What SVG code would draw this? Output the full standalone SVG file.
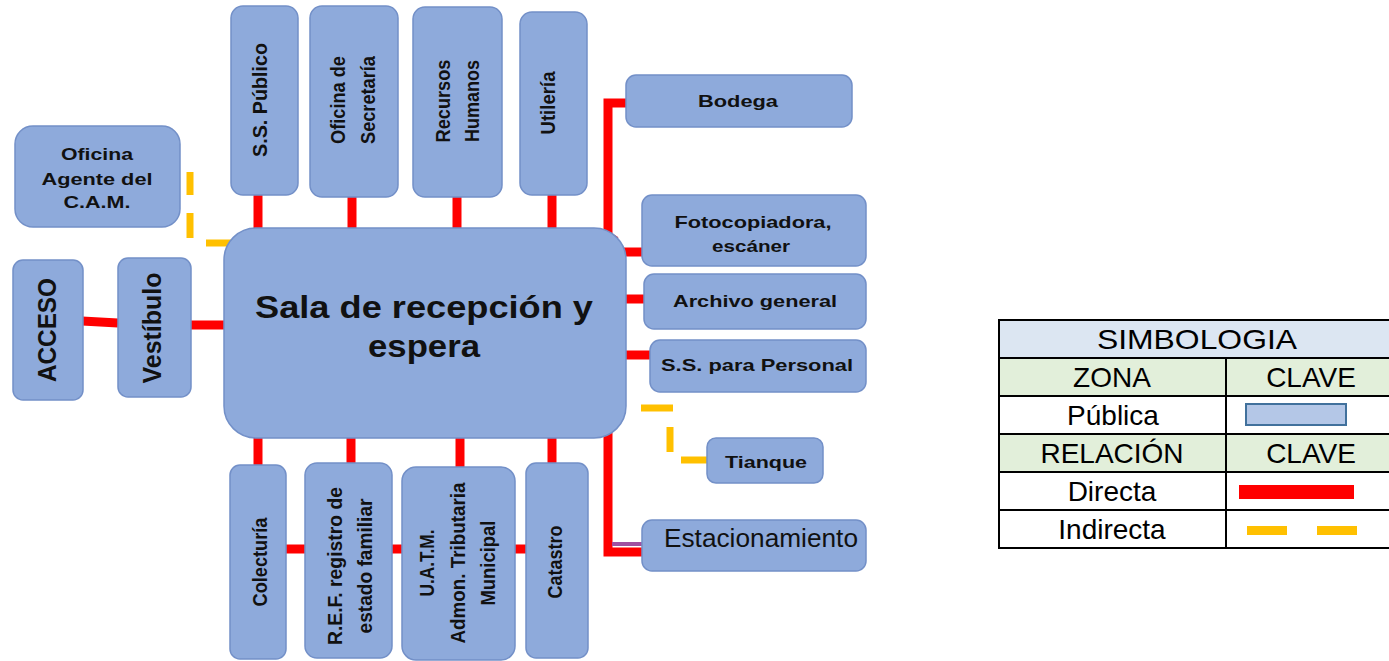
<svg xmlns="http://www.w3.org/2000/svg" width="1389" height="661" viewBox="0 0 1389 661">
<style>
.n{fill:#8EAADB;stroke:#7390C8;stroke-width:1.5}
.t{font-family:"Liberation Sans",Arial,sans-serif;font-weight:bold;font-size:17px;fill:#111;text-anchor:middle}
.v{font-size:20px}
.d{stroke:#FF0000;stroke-width:9;fill:none}
.i{stroke:#FFC000;stroke-width:7;fill:none}
.lg{font-family:"Liberation Sans",Arial,sans-serif;font-size:28px;fill:#000;text-anchor:middle}
.cell{stroke:#000;stroke-width:2}
</style>
<rect width="1389" height="661" fill="#fff"/>
<g id="connectors">
<line class="d" x1="82" y1="321" x2="118" y2="323"/>
<line class="d" x1="190" y1="325" x2="225" y2="325"/>
<line class="d" x1="258" y1="195" x2="258" y2="229"/>
<line class="d" x1="352" y1="197" x2="352" y2="229"/>
<line class="d" x1="457" y1="197" x2="457" y2="229"/>
<line class="d" x1="552" y1="195" x2="552" y2="229"/>
<polyline class="d" points="630,103 608,103 608,236 616,241"/>
<line class="d" x1="622" y1="252" x2="643" y2="252"/>
<line class="d" x1="625" y1="299" x2="645" y2="299"/>
<line class="d" x1="625" y1="355" x2="651" y2="355"/>
<polyline class="d" points="608,430 608,552 653,552"/>
<line x1="612" y1="544" x2="650" y2="544" stroke="#A050A0" stroke-width="4"/>
<line class="d" x1="258" y1="437" x2="258" y2="466"/>
<line class="d" x1="351" y1="437" x2="351" y2="464"/>
<line class="d" x1="460" y1="437" x2="460" y2="468"/>
<line class="d" x1="552" y1="437" x2="552" y2="464"/>
<line class="d" x1="286" y1="549" x2="305" y2="549"/>
<line class="d" x1="392" y1="549" x2="402" y2="549"/>
<line class="d" x1="515" y1="549" x2="527" y2="549"/>
<line class="i" x1="190" y1="172" x2="190" y2="195"/>
<line class="i" x1="190" y1="213" x2="190" y2="238"/>
<line class="i" x1="206" y1="243" x2="233" y2="243"/>
<line class="i" x1="641" y1="408" x2="673" y2="408"/>
<line class="i" x1="670" y1="427" x2="670" y2="452"/>
<line class="i" x1="681" y1="460" x2="707" y2="460"/>
</g>
<g id="sala">
<rect class="n" x="224" y="228" width="402" height="210" rx="32"/>
<text class="t" style="font-size:32px" x="424" y="318" textLength="338" lengthAdjust="spacingAndGlyphs">Sala de recepción y</text>
<text class="t" style="font-size:32px" x="424" y="357" textLength="112" lengthAdjust="spacingAndGlyphs">espera</text>
</g>
<g id="acceso">
<rect class="n" x="13" y="260" width="70" height="140" rx="10"/>
<text class="t" style="font-size:25px" transform="translate(47,330) rotate(-90)" y="9" textLength="104" lengthAdjust="spacingAndGlyphs">ACCESO</text>
</g>
<g id="vestibulo">
<rect class="n" x="118" y="258" width="73" height="139" rx="10"/>
<text class="t" style="font-size:25px" transform="translate(152,328) rotate(-90)" y="9" textLength="111" lengthAdjust="spacingAndGlyphs">Vestíbulo</text>
</g>
<g id="agente">
<rect class="n" x="15" y="126" width="165" height="101" rx="18"/>
<text class="t" x="97" y="160" textLength="72" lengthAdjust="spacingAndGlyphs">Oficina</text>
<text class="t" x="97" y="185" textLength="111" lengthAdjust="spacingAndGlyphs">Agente del</text>
<text class="t" x="97" y="208" textLength="67" lengthAdjust="spacingAndGlyphs">C.A.M.</text>
</g>
<g id="ss-publico">
<rect class="n" x="231" y="6" width="67" height="189" rx="12"/>
<text class="t v" transform="translate(260,100) rotate(-90)" y="7" textLength="114" lengthAdjust="spacingAndGlyphs">S.S. Público</text>
</g>
<g id="secretaria">
<rect class="n" x="310" y="6" width="88" height="191" rx="12"/>
<text class="t v" transform="translate(353,100) rotate(-90)"><tspan x="0" y="-8" textLength="88" lengthAdjust="spacingAndGlyphs">Oficina de</tspan><tspan x="0" y="22" textLength="88" lengthAdjust="spacingAndGlyphs">Secretaría</tspan></text>
</g>
<g id="rrhh">
<rect class="n" x="413" y="7" width="89" height="190" rx="12"/>
<text class="t v" transform="translate(457,101) rotate(-90)"><tspan x="0" y="-7" textLength="83" lengthAdjust="spacingAndGlyphs">Recursos</tspan><tspan x="0" y="22" textLength="82" lengthAdjust="spacingAndGlyphs">Humanos</tspan></text>
</g>
<g id="utileria">
<rect class="n" x="520" y="12" width="67" height="183" rx="12"/>
<text class="t v" transform="translate(548,103) rotate(-90)" y="7" textLength="63" lengthAdjust="spacingAndGlyphs">Utilería</text>
</g>
<g id="bodega">
<rect class="n" x="626" y="75" width="226" height="52" rx="10"/>
<text class="t" x="738" y="107" textLength="80" lengthAdjust="spacingAndGlyphs">Bodega</text>
</g>
<g id="fotocopiadora">
<rect class="n" x="642" y="195" width="224" height="71" rx="10"/>
<text class="t" x="753" y="228" textLength="157" lengthAdjust="spacingAndGlyphs">Fotocopiadora,</text>
<text class="t" x="751" y="252" textLength="78" lengthAdjust="spacingAndGlyphs">escáner</text>
</g>
<g id="archivo">
<rect class="n" x="644" y="274" width="222" height="55" rx="10"/>
<text class="t" x="755" y="307" textLength="164" lengthAdjust="spacingAndGlyphs">Archivo general</text>
</g>
<g id="ss-personal">
<rect class="n" x="650" y="340" width="216" height="52" rx="10"/>
<text class="t" x="757" y="371" textLength="192" lengthAdjust="spacingAndGlyphs">S.S. para Personal</text>
</g>
<g id="tianque">
<rect class="n" x="707" y="438" width="116" height="45" rx="9"/>
<text class="t" x="766" y="468" textLength="82" lengthAdjust="spacingAndGlyphs">Tianque</text>
</g>
<g id="estacionamiento">
<rect class="n" x="642" y="520" width="224" height="51" rx="10"/>
<text class="t" style="font-weight:normal;font-size:26px" x="761" y="547" textLength="194" lengthAdjust="spacingAndGlyphs">Estacionamiento</text>
</g>
<g id="colecturia">
<rect class="n" x="230" y="465" width="56" height="194" rx="10"/>
<text class="t v" transform="translate(260,562) rotate(-90)" y="7" textLength="89" lengthAdjust="spacingAndGlyphs">Colecturía</text>
</g>
<g id="ref">
<rect class="n" x="305" y="463" width="87" height="195" rx="12"/>
<text class="t v" transform="translate(350,566) rotate(-90)"><tspan x="0" y="-8" textLength="158" lengthAdjust="spacingAndGlyphs">R.E.F. registro de</tspan><tspan x="0" y="22" textLength="135" lengthAdjust="spacingAndGlyphs">estado familiar</tspan></text>
</g>
<g id="uatm">
<rect class="n" x="402" y="467" width="113" height="193" rx="14"/>
<text class="t v" transform="translate(458,563) rotate(-90)"><tspan x="0" y="-24" textLength="67" lengthAdjust="spacingAndGlyphs">U.A.T.M.</tspan><tspan x="0" y="7" textLength="161" lengthAdjust="spacingAndGlyphs">Admon. Tributaria</tspan><tspan x="0" y="37" textLength="85" lengthAdjust="spacingAndGlyphs">Municipal</tspan></text>
</g>
<g id="catastro">
<rect class="n" x="526" y="463" width="62" height="195" rx="10"/>
<text class="t v" transform="translate(555,562) rotate(-90)" y="7" textLength="73" lengthAdjust="spacingAndGlyphs">Catastro</text>
</g>
<g id="legend">
<rect x="999" y="320" width="397" height="38" fill="#DCE6F2"/>
<rect x="999" y="358" width="397" height="38" fill="#E2EFDA"/>
<rect x="999" y="434" width="397" height="38" fill="#E2EFDA"/>
<rect class="cell" x="999" y="320" width="397" height="228" fill="none"/>
<line class="cell" x1="999" y1="358" x2="1396" y2="358"/>
<line class="cell" x1="999" y1="396" x2="1396" y2="396"/>
<line class="cell" x1="999" y1="434" x2="1396" y2="434"/>
<line class="cell" x1="999" y1="472" x2="1396" y2="472"/>
<line class="cell" x1="999" y1="510" x2="1396" y2="510"/>
<line class="cell" x1="1226" y1="358" x2="1226" y2="548"/>
<text class="lg" x="1197" y="349" textLength="200" lengthAdjust="spacingAndGlyphs">SIMBOLOGIA</text>
<text class="lg" x="1112" y="387">ZONA</text>
<text class="lg" x="1311" y="387">CLAVE</text>
<text class="lg" x="1113" y="425">Pública</text>
<text class="lg" x="1112" y="463">RELACIÓN</text>
<text class="lg" x="1311" y="463">CLAVE</text>
<text class="lg" x="1112" y="501">Directa</text>
<text class="lg" x="1112" y="539">Indirecta</text>
<rect x="1246" y="404" width="100" height="21" fill="#B4C7E7" stroke="#41719C" stroke-width="2"/>
<rect x="1239" y="485" width="115" height="14" fill="#FF0000"/>
<rect x="1247" y="526" width="40" height="9" fill="#FFC000"/>
<rect x="1317" y="526" width="40" height="9" fill="#FFC000"/>
</g>
</svg>
